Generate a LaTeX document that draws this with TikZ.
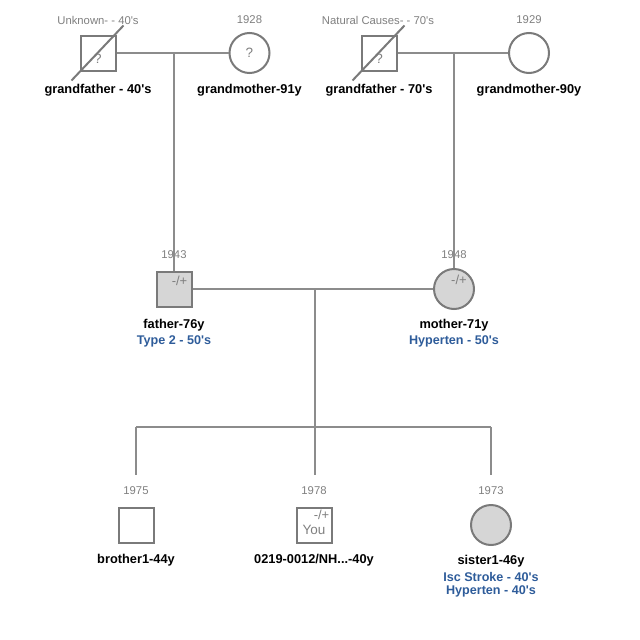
\documentclass[tikz,border=0pt]{standalone}
\usepackage{fontspec}
\setmainfont{Liberation Sans}
\usetikzlibrary{positioning}

\definecolor{linegray}{HTML}{8C8C8C}
\definecolor{shapegray}{HTML}{7A7A7A}
\definecolor{fillgray}{HTML}{D6D6D6}
\definecolor{txtgray}{HTML}{7F7F7F}
\definecolor{dxblue}{HTML}{2E5C9A}

\newcommand{\ap}{\textquotesingle}

\tikzset{
  male/.style={draw=shapegray, line width=2pt, rectangle, minimum size=35pt, inner sep=0pt},
  female/.style={draw=shapegray, line width=2pt, circle, minimum size=40pt, inner sep=0pt},
  affected/.style={fill=fillgray},
  link/.style={draw=linegray, line width=1.2pt},
  dead/.style={draw=shapegray, line width=2pt},
  year/.style={text=txtgray, font=\fontsize{11.3}{13}\selectfont},
  pname/.style={font=\fontsize{12.8}{15}\selectfont\bfseries},
  dx/.style={text=dxblue, font=\fontsize{12.6}{15}\selectfont\bfseries},
  carrier/.style={text=txtgray, font=\fontsize{13}{14}\selectfont, inner sep=0pt},
  qmark/.style={text=txtgray, font=\fontsize{13.5}{15}\selectfont}
}

\begin{document}
\begin{tikzpicture}[x=1pt, y=-1pt]
\useasboundingbox (0,0) rectangle (640,640);

% Grandparents, father's side
\node[male] (gfa) at (98,53) {};
\node[qmark] at ([yshift=-6pt]gfa.center) {?};
\draw[dead] ([shift={(-8,9)}]gfa.south west) -- ([shift={(7,-9)}]gfa.north east);
\node[year] at (98,20) {Unknown- - 40\ap s};
\node[pname] at (98,90) {grandfather - 40\ap s};

\node[female] (gma) at (249.5,53) {};
\node[qmark] at (gma.center) {?};
\node[year] at (249.5,20) {1928};
\node[pname] at (249.5,90) {grandmother-91y};

% Grandparents, mother's side
\node[male] (gfb) at (379,53) {};
\node[qmark] at ([yshift=-6pt]gfb.center) {?};
\draw[dead] ([shift={(-8,9)}]gfb.south west) -- ([shift={(7,-9)}]gfb.north east);
\node[year] at (378,20) {Natural Causes- - 70\ap s};
\node[pname] at (379,90) {grandfather - 70\ap s};

\node[female] (gmb) at (529,53) {};
\node[year] at (529,20) {1929};
\node[pname] at (529,90) {grandmother-90y};

% Parents
\node[male, affected] (fa) at (174,289) {};
\node[carrier, anchor=north east] at ([shift={(-5,5)}]fa.north east) {-/+};
\node[year] at (174,255) {1943};
\node[pname] at (174,325) {father-76y};
\node[dx] at (174,341) {Type 2 - 50\ap s};

\node[female, affected] (mo) at (454,289) {};
\node[carrier] at (459,280) {-/+};
\node[year] at (454,255) {1948};
\node[pname] at (454,325) {mother-71y};
\node[dx] at (454,341) {Hyperten - 50\ap s};

% Children
\node[male] (br) at (136,525) {};
\node[year] at (136,491) {1975};
\node[pname] at (136,560) {brother1-44y};

\node[male] (me) at (314,525) {};
\node[carrier, anchor=north east] at ([shift={(-3,3)}]me.north east) {-/+};
\node[qmark] at (314,530) {You};
\node[year] at (314,491) {1978};
\node[pname] at (314,560) {0219-0012/NH...-40y};

\node[female, affected] (si) at (491,525) {};
\node[year] at (491,491) {1973};
\node[pname] at (491,561) {sister1-46y};
\node[dx] at (491,577) {Isc Stroke - 40\ap s};
\node[dx] at (491,591) {Hyperten - 40\ap s};

% Connectors
\coordinate (ma) at (174,53);
\coordinate (mb) at (454,53);
\coordinate (mc) at (315,289);
\coordinate (sib) at (315,427);
\coordinate (sibl) at (136,427);
\coordinate (sibr) at (491,427);
\coordinate (brtop) at (136,475);
\coordinate (metop) at (315,475);
\coordinate (sitop) at (491,475);

\draw[link] (gfa.east) -- (gma.west);
\draw[link] (ma) -- (fa.north);
\draw[link] (gfb.east) -- (gmb.west);
\draw[link] (mb) -- (mo.north);
\draw[link] (fa.east) -- (mo.west);
\draw[link] (mc) -- (sib);
\draw[link] (sibl) -- (sibr);
\draw[link] (sibl) -- (brtop);
\draw[link] (sib) -- (metop);
\draw[link] (sibr) -- (sitop);

\end{tikzpicture}
\end{document}
